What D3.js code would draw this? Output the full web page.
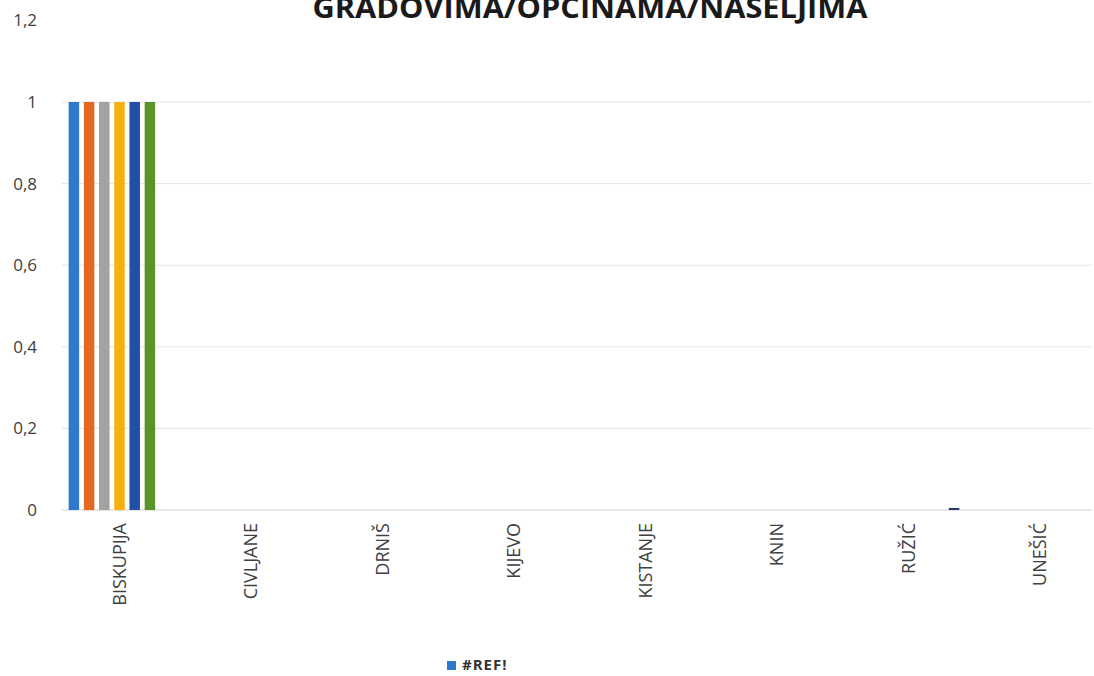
<!DOCTYPE html>
<html>
<head>
<meta charset="utf-8">
<script src="https://cdn.jsdelivr.net/npm/d3@7"></script>
<style>
  body { margin: 0; background: #fff; }
  text { font-family: "Open Sans", "DejaVu Sans", sans-serif; }
</style>
</head>
<body>
<svg id="chart" width="1094" height="676"></svg>
<script>
// data
var categories = ["BISKUPIJA", "CIVLJANE", "DRNIŠ", "KIJEVO", "KISTANJE", "KNIN", "RUŽIĆ", "UNEŠIĆ"];
var seriesNames = ["s1", "s2", "s3", "s4", "s5", "s6", "s7"];
var s1 = [1, 0, 0, 0, 0, 0, 0, 0];
var s2 = [1, 0, 0, 0, 0, 0, 0, 0];
var s3 = [1, 0, 0, 0, 0, 0, 0, 0];
var s4 = [1, 0, 0, 0, 0, 0, 0, 0];
var s5 = [1, 0, 0, 0, 0, 0, 0, 0];
var s6 = [1, 0, 0, 0, 0, 0, 0, 0];
var s7 = [0, 0, 0, 0, 0, 0, 0.005, 0];
var yTicks = [0, 0.2, 0.4, 0.6, 0.8, 1, 1.2];
var legendLabel = "#REF!";
var title = "GRADOVIMA/OPĆINAMA/NASELJIMA";

var colors = ["#2f78cc", "#e2691f", "#a3a1a3", "#f6b10f", "#204fa6", "#5a9329", "#283a66"];
var allSeries = [s1, s2, s3, s4, s5, s6, s7];

var svg = d3.select("#chart");

var margin = {top: 20.4, left: 53.75, right: 1105.75, bottom: 510};

var x0 = d3.scaleBand()
  .domain(categories)
  .range([margin.left, margin.right])
  .padding(0);

// bar pitch ~15.2px
var groupW = 15.2 * seriesNames.length;
var x1 = d3.scaleBand()
  .domain(seriesNames)
  .range([0, groupW])
  .paddingInner(0.31)
  .paddingOuter(0.155);

var y = d3.scaleLinear()
  .domain([0, 1.2])
  .range([margin.bottom, margin.top]);

var z = d3.scaleOrdinal().domain(seriesNames).range(colors);

// gridlines
svg.append("g")
  .selectAll("line")
  .data(yTicks.filter(function(d) { return d <= 1; }))
  .enter().append("line")
    .attr("x1", 62)
    .attr("x2", 1092)
    .attr("y1", function(d) { return y(d); })
    .attr("y2", function(d) { return y(d); })
    .attr("stroke", function(d) { return d === 0 ? "#d0d0d0" : "#e4e4e4"; })
    .attr("stroke-width", 1);

// y axis labels
var yAxis = d3.axisLeft(y)
  .tickValues(yTicks)
  .tickSize(0)
  .tickPadding(0)
  .tickFormat(function(d) { return d3.format("")(d).replace(".", ","); });

svg.append("g")
  .attr("transform", "translate(37,0)")
  .call(yAxis)
  .call(function(g) { g.select(".domain").remove(); })
  .selectAll("text")
    .attr("fill", "#404040")
    .style("font-size", "17px");

// bars
var rows = categories.map(function(c, i) {
  var r = {category: c};
  seriesNames.forEach(function(s, j) { r[s] = allSeries[j][i]; });
  return r;
});

var groups = svg.append("g")
  .selectAll("g")
  .data(rows)
  .enter().append("g")
    .attr("transform", function(d) {
      return "translate(" + (x0(d.category) + (x0.bandwidth() - groupW) / 2) + ",0)";
    });

groups.selectAll("rect")
  .data(function(d) { return seriesNames.map(function(s) { return {key: s, value: d[s]}; }); })
  .enter().append("rect")
    .attr("x", function(d) { return x1(d.key); })
    .attr("width", x1.bandwidth())
    .attr("y", function(d) { return y(d.value); })
    .attr("height", function(d) { return y(0) - y(d.value); })
    .attr("fill", function(d) { return z(d.key); });

// x axis labels
var xAxis = d3.axisBottom(x0).tickSize(0).tickPadding(0);
svg.append("g")
  .attr("transform", "translate(0," + margin.bottom + ")")
  .call(xAxis)
  .call(function(g) { g.select(".domain").remove(); })
  .selectAll("text")
    .attr("transform", "rotate(-90)")
    .attr("x", -13)
    .attr("y", 0)
    .attr("dy", "0.35em")
    .style("text-anchor", "end")
    .style("font-size", "18px")
    .attr("fill", "#404040");

// title (top edge is cropped in the original)
svg.append("text")
  .attr("x", 590)
  .attr("y", 18)
  .attr("text-anchor", "middle")
  .attr("textLength", 555)
  .attr("lengthAdjust", "spacingAndGlyphs")
  .style("font-size", "28px")
  .style("font-weight", "bold")
  .attr("fill", "#1a1a1a")
  .text(title);

// legend
svg.append("rect")
  .attr("x", 447)
  .attr("y", 661)
  .attr("width", 9)
  .attr("height", 9)
  .attr("fill", colors[0]);

svg.append("text")
  .attr("x", 462)
  .attr("y", 670)
  .style("font-size", "15px")
  .style("font-weight", "bold")
  .style("letter-spacing", "1px")
  .attr("fill", "#333")
  .text(legendLabel);
</script>
</body>
</html>
